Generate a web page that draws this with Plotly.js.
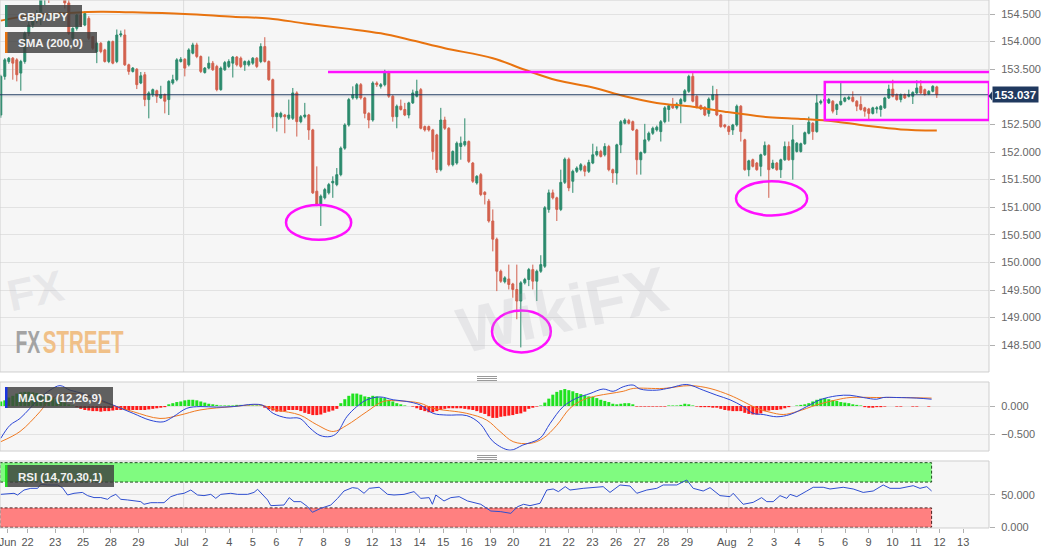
<!DOCTYPE html>
<html><head><meta charset="utf-8">
<script src="https://cdn.plot.ly/plotly-3.0.1.min.js"></script>
<style>html,body{margin:0;padding:0;background:#fff}#chart{width:1060px;height:555px}</style>
</head><body><div id="chart"></div>
<script>
// ---- GBP/JPY 4h candles ----
const openP = [152.67,153.37,153.64,153.70,153.67,153.43,153.64,154.15,154.30,154.38,154.51,154.80,154.95,154.85,155.00,154.90,154.80,154.70,154.06,154.24,154.48,154.30,154.42,154.09,153.82,153.97,153.85,153.64,154.00,153.64,154.12,154.12,153.58,153.46,153.50,153.25,153.40,152.95,153.04,153.11,152.98,153.04,152.95,153.25,153.31,153.64,153.68,153.58,153.79,153.94,153.73,153.44,153.52,153.61,153.55,153.13,153.49,153.55,153.61,153.72,153.70,153.58,153.58,153.61,153.70,153.64,153.91,153.64,153.31,152.64,152.64,152.67,152.61,152.61,153.07,152.55,152.64,152.67,152.40,151.29,151.05,151.17,151.26,151.44,151.41,151.59,152.07,152.49,152.98,152.98,153.22,152.98,152.70,152.58,153.25,153.19,153.22,153.43,153.01,152.64,152.83,152.77,152.67,152.89,153.01,153.13,152.46,152.46,152.40,152.31,151.68,152.58,152.43,151.77,151.80,152.10,152.13,152.19,151.80,151.44,151.59,151.27,151.11,150.75,150.42,149.84,149.65,149.70,149.61,149.51,149.30,149.63,149.69,149.87,149.66,149.84,149.93,150.96,151.26,151.17,150.96,151.45,151.87,151.47,151.65,151.68,151.74,151.65,151.80,151.95,152.01,151.95,152.10,151.68,151.62,152.13,152.52,152.57,152.55,152.40,151.86,151.99,152.22,152.34,152.40,152.37,152.55,152.77,152.84,152.80,152.87,152.92,153.10,153.37,153.01,152.84,152.81,152.70,152.95,153.04,152.67,152.49,152.46,152.40,152.49,152.83,152.22,151.68,151.86,151.80,151.74,151.95,152.12,151.71,151.80,151.68,151.86,152.10,151.86,152.01,152.01,152.15,152.34,152.52,152.37,152.89,152.92,152.89,152.92,152.77,152.86,152.92,152.96,152.99,152.92,152.86,152.80,152.78,152.70,152.78,152.77,152.80,152.98,153.14,153.04,152.95,153.04,153.01,153.01,153.07,153.19,153.13,153.05,153.10,153.18];
const highP = [153.40,153.70,153.72,153.72,153.70,153.67,154.18,154.36,154.45,154.57,154.90,155.00,155.05,155.10,155.12,155.00,154.95,154.85,154.26,154.50,154.52,154.55,154.46,154.10,153.99,153.99,153.87,154.02,154.02,154.22,154.20,154.22,153.60,153.54,153.52,153.45,153.45,153.10,153.15,153.13,153.20,153.06,153.30,153.40,153.70,153.72,153.70,153.88,153.98,153.98,153.75,153.54,153.73,153.65,153.58,153.55,153.65,153.68,153.74,153.74,153.73,153.66,153.67,153.72,153.72,153.97,154.08,153.66,153.33,152.72,152.73,152.69,152.95,153.16,153.10,152.67,152.89,152.69,152.42,151.74,151.23,151.35,151.44,151.56,151.71,152.10,152.52,152.98,153.19,153.25,153.25,153.00,152.72,153.28,153.28,153.25,153.49,153.47,153.03,152.86,152.95,152.89,152.91,153.13,153.31,153.16,152.48,152.48,152.42,152.33,152.80,152.64,152.45,152.03,152.19,152.28,152.61,152.21,151.82,151.58,151.62,151.29,151.15,150.96,150.45,149.87,149.75,149.96,149.63,149.96,149.66,149.72,149.90,149.96,149.87,150.13,151.02,151.32,151.32,151.19,151.68,151.90,151.90,151.68,151.74,151.80,151.77,151.86,152.15,152.10,152.04,152.16,152.13,151.70,152.15,152.58,152.61,152.60,152.57,152.42,152.01,152.51,152.37,152.46,152.48,152.58,152.83,152.87,152.98,152.90,152.98,153.14,153.40,153.43,153.03,152.86,152.83,152.99,153.20,153.14,152.69,152.51,152.48,152.51,152.86,152.85,152.24,151.86,151.88,151.82,151.97,152.19,152.14,151.86,151.82,151.88,152.19,152.19,152.49,152.18,152.17,152.37,152.64,152.54,153.04,152.95,152.98,152.98,152.94,152.88,153.25,153.00,153.02,153.10,152.94,153.01,152.82,152.80,152.82,152.83,152.85,153.00,153.22,153.31,153.06,153.06,153.06,153.13,153.10,153.30,153.30,153.15,153.12,153.21,153.20];
const lowP = [152.62,153.31,153.60,153.31,153.28,153.11,153.60,154.10,154.25,154.33,154.30,154.66,154.70,154.80,154.85,154.76,154.60,154.12,154.03,154.20,154.27,154.28,154.03,153.85,153.61,153.79,153.62,153.61,153.59,153.61,154.08,153.56,153.40,153.44,153.14,153.23,152.83,152.61,153.00,152.89,152.96,152.70,152.67,153.22,153.28,153.62,153.37,153.55,153.77,153.70,153.43,153.42,153.50,153.47,153.10,153.11,153.47,153.52,153.35,153.55,153.52,153.47,153.55,153.58,153.52,153.61,153.62,153.29,152.43,152.37,152.61,152.34,152.58,152.58,152.28,152.52,152.61,152.22,151.24,151.02,150.66,151.14,151.23,151.17,151.38,151.56,152.04,152.46,152.95,152.95,152.95,152.61,152.43,152.55,153.18,153.15,153.19,152.98,152.55,152.43,152.75,152.65,152.61,152.87,152.99,152.41,152.37,152.37,151.86,151.62,151.65,152.40,151.74,151.74,151.77,151.86,152.10,151.80,151.44,151.41,151.20,151.05,150.72,150.20,149.48,149.63,149.62,149.51,149.36,148.97,148.46,149.60,149.57,149.51,149.30,149.81,149.90,150.90,151.14,150.75,150.93,151.42,151.29,151.26,151.62,151.65,151.56,151.62,151.78,151.92,151.90,151.92,151.65,151.44,151.41,151.98,152.50,152.50,152.38,151.59,151.59,151.97,152.19,152.31,152.37,152.19,152.52,152.55,152.78,152.77,152.52,152.90,153.07,152.90,152.79,152.76,152.65,152.64,152.93,152.65,152.44,152.43,152.31,152.31,152.46,152.19,151.66,151.56,151.72,151.66,151.56,151.93,151.17,151.69,151.66,151.53,151.84,151.84,151.50,151.99,151.99,152.13,152.32,152.22,152.35,152.86,152.90,152.87,152.70,152.67,152.84,152.90,152.94,152.90,152.74,152.75,152.64,152.58,152.68,152.70,152.64,152.78,152.96,152.99,152.93,152.90,152.96,152.99,152.87,153.05,153.05,153.02,153.03,153.08,152.98];
const closeP = [153.37,153.67,153.70,153.61,153.40,153.64,154.15,154.30,154.39,154.51,154.80,154.95,154.85,155.00,154.90,154.80,154.70,154.15,154.24,154.48,154.30,154.51,154.06,153.88,153.97,153.82,153.64,154.00,153.61,154.12,154.14,153.58,153.46,153.52,153.22,153.38,152.95,153.07,153.13,153.01,153.04,152.92,153.28,153.31,153.67,153.68,153.52,153.85,153.94,153.73,153.46,153.52,153.61,153.49,153.13,153.52,153.62,153.64,153.72,153.58,153.55,153.64,153.64,153.70,153.55,153.91,153.64,153.31,152.64,152.70,152.70,152.64,152.67,153.07,152.55,152.64,152.67,152.40,151.26,151.05,151.20,151.32,151.41,151.47,151.59,152.07,152.49,152.95,153.04,153.22,152.98,152.70,152.58,153.25,153.22,153.22,153.46,153.01,152.64,152.83,152.77,152.67,152.89,153.07,153.10,152.43,152.40,152.40,152.01,151.68,152.58,152.43,151.77,152.01,152.16,152.16,152.19,151.83,151.47,151.56,151.23,151.23,150.75,150.42,149.84,149.66,149.72,149.60,149.51,149.30,149.63,149.69,149.87,149.66,149.84,149.96,150.99,151.26,151.17,150.96,151.45,151.87,151.35,151.65,151.71,151.77,151.65,151.81,151.95,152.01,151.92,152.10,151.68,151.62,152.13,152.55,152.58,152.52,152.40,151.86,151.99,152.22,152.34,152.43,152.45,152.55,152.80,152.84,152.80,152.87,152.95,153.11,153.37,152.92,152.81,152.78,152.67,152.96,153.04,152.67,152.46,152.46,152.37,152.49,152.83,152.37,151.68,151.84,151.74,151.68,151.95,152.12,151.68,151.80,151.68,151.86,152.10,151.86,152.22,152.16,152.15,152.35,152.54,152.37,152.89,152.92,152.96,152.95,152.74,152.86,152.92,152.98,152.99,152.92,152.83,152.77,152.74,152.70,152.80,152.80,152.83,152.98,153.14,153.01,152.95,153.04,152.98,153.04,153.08,153.16,153.07,153.04,153.10,153.19,153.04];
const lastPrice = 153.037;

// SMA(200) sampled along the candles (candle index, value)
const smaIdx = [0,8,17,25,33,46,58,67,76,86,95,103,111,123,131,139,148,156,164,173,181,192,200,209,217,225,234];
const smaVal = [154.38,154.48,154.52,154.54,154.53,154.50,154.45,154.42,154.33,154.24,154.15,154.02,153.88,153.70,153.49,153.30,153.17,153.01,152.89,152.82,152.73,152.63,152.60,152.55,152.47,152.41,152.39];

// MACD (12,26,9)
const macdIdx = [0,2.3,4.8,7.3,9.8,12.3,14.8,17.3,20.6,24.8,29,33.1,37.3,40.6,43.1,46.5,49.8,54,58.1,63.1,65.6,68.1,71.5,74.8,77.3,79.8,82.3,84,86.5,89,91.5,94.8,98.1,101.5,104.8,108.1,111.5,116.5,119.8,123.1,127.3,130.5,134.8,137.3,140.6,144,147.3,150.6,153.1,155.6,158.1,159.8,164,167.3,171.5,175.6,179,182.3,185.6,188.1,190.6,194,197.3,201.5,204.8,209,212.3,215.6,219,220.6,224,229,232.7];
const macdVal = [-0.57,-0.34,-0.22,-0.04,0.14,0.28,0.36,0.28,0.22,0.11,-0.01,-0.13,-0.25,-0.28,-0.19,-0.04,-0.01,-0.02,-0.01,0.03,0.01,-0.13,-0.21,-0.22,-0.39,-0.52,-0.54,-0.48,-0.19,-0.01,0.11,0.16,0.11,0.08,0.02,-0.13,-0.16,-0.17,-0.31,-0.63,-0.78,-0.69,-0.57,-0.31,-0.01,0.14,0.22,0.30,0.26,0.34,0.37,0.30,0.28,0.32,0.38,0.28,0.19,0.11,-0.01,-0.13,-0.15,-0.19,-0.15,-0.01,0.11,0.18,0.19,0.15,0.12,0.15,0.15,0.14,0.12];
const signalIdx = [0,4.8,9.8,12.3,16.5,20.6,24.8,29,33.1,39.8,44.8,49.8,58.1,64.8,69,74.8,79,83.1,86.5,91.5,95.6,99.8,104.8,108.1,116.5,121.5,124.8,128.1,132.3,135.6,139,142.3,145.6,149,152.3,155.6,158.1,165.6,172.3,177.3,182.3,185.6,189,192.3,195.6,199,204,209,212.3,219,224,232.7];
const signalVal = [-0.63,-0.45,-0.10,0.11,0.22,0.19,0.09,-0.01,-0.10,-0.22,-0.16,-0.07,-0.01,0.02,-0.07,-0.16,-0.33,-0.45,-0.34,-0.10,0.08,0.09,0.05,-0.04,-0.13,-0.25,-0.45,-0.63,-0.66,-0.57,-0.34,-0.04,0.11,0.18,0.22,0.26,0.31,0.31,0.36,0.31,0.19,0.08,-0.04,-0.11,-0.15,-0.10,0.02,0.11,0.15,0.15,0.15,0.14];
const histVal = [0.08,0.10,0.15,0.18,0.22,0.24,0.25,0.25,0.24,0.23,
0.21,0.19,0.17,0.15,0.12,0.09,0.06,0.03,0.01,-0.02,
-0.05,-0.07,-0.08,-0.09,-0.09,-0.10,-0.09,-0.09,-0.08,-0.07,
-0.07,-0.07,-0.07,-0.07,-0.07,-0.07,-0.07,-0.06,-0.05,-0.04,
-0.03,-0.02,0.03,0.05,0.07,0.08,0.10,0.11,0.11,0.10,
0.08,0.06,0.04,0.03,0.02,0.01,0.01,0.01,0.01,0.02,
0.02,0.01,0.01,0.01,0.01,0.01,-0.03,-0.06,-0.08,-0.10,
-0.10,-0.09,-0.07,-0.07,-0.07,-0.09,-0.12,-0.14,-0.16,-0.16,
-0.15,-0.12,-0.10,-0.08,-0.05,0.05,0.12,0.18,0.22,0.22,
0.20,0.17,0.16,0.18,0.17,0.15,0.14,0.11,0.08,0.05,
0.03,0.01,0.00,-0.01,-0.04,-0.07,-0.09,-0.11,-0.11,-0.09,
-0.07,-0.05,-0.04,-0.04,-0.04,-0.04,-0.05,-0.06,-0.07,-0.09,
-0.12,-0.14,-0.18,-0.21,-0.21,-0.19,-0.18,-0.17,-0.16,-0.14,
-0.13,-0.10,-0.05,-0.03,-0.01,0.01,0.06,0.13,0.20,0.25,
0.28,0.30,0.28,0.26,0.23,0.21,0.19,0.17,0.16,0.14,
0.11,0.09,0.07,0.04,0.03,0.04,0.05,0.05,0.03,-0.01,
-0.01,-0.01,-0.01,-0.01,-0.01,-0.01,-0.01,0.01,0.01,0.01,
0.02,0.04,0.03,0.01,-0.01,-0.02,-0.02,-0.02,-0.03,-0.03,
-0.05,-0.07,-0.08,-0.09,-0.09,-0.09,-0.12,-0.14,-0.15,-0.15,
-0.13,-0.09,-0.08,-0.07,-0.07,-0.06,-0.04,-0.02,0.00,0.01,
0.02,0.03,0.05,0.08,0.11,0.13,0.14,0.12,0.10,0.09,
0.07,0.06,0.05,0.03,0.02,0.01,-0.02,-0.03,-0.03,-0.02,
-0.02,-0.01,0.00,0.00,-0.01,-0.01,0.00,0.00,-0.01,-0.01,
0.00,0.00,-0.01];

// RSI (14,70,30,1)
const rsiIdx = [0,1.7,3.3,4.2,5.8,7.5,9.2,10,11.7,14.2,15.4,16.7,18.3,20.4,21.7,23.3,25,26.7,27.5,28.75,30,31.7,33.3,35,35.8,37.5,39.2,40.8,42.5,44.2,45.8,47.5,49.2,50.8,52.5,53.75,55,57.5,59.2,61.7,63.3,64.2,66.7,67.5,70.8,72.1,73.3,75,76.7,77.9,80,82.5,84.2,85.8,87.9,89.2,90.8,92.1,94.6,96.7,98.3,100.8,103.3,105,107.1,107.9,108.75,110.8,112.5,114.6,116.7,120,122.5,125,127.5,129.2,130.7,
132.3,134.8,136.5,138.1,139.4,141.1,142.3,145.6,148.1,150.6,152.3,154.8,157.3,159,161.5,164,165.6,169,171.5,173.1,175.6,177.3,179.8,182.3,183.1,185.6,188.1,190.2,191.5,193.1,194.8,196.5,197.3,199,201.5,203.1,205.6,207.3,210.6,213.1,215.6,218.1,220.6,222.3,224.8,228.1,229.8,231.5,232.7];
const rsiVal = [51,52,52.6,50,57.7,60.3,60.3,66.5,65.5,65.5,61.4,50,52.6,54,49,46,46,43.3,47.4,51,43.3,42.3,40.7,39.7,35.6,38.1,38.1,38.1,47.4,51,52.6,57.7,50,49,51,44.8,51,52.6,51,51,54,58.8,42.3,33.5,34.5,45.9,39.7,39.7,31.9,23.2,29.4,34.5,44.8,56.2,61.4,60.3,52.6,60.3,61.9,51,50,51,55.2,44.8,45.9,35.6,50,40.7,45.9,47.4,40.7,35.6,25.2,24.2,21.6,31.9,35.6,
33.5,37.1,57.7,59.3,55.2,62.9,57.7,60.3,61.9,62.9,54,65.5,63.9,52.6,57.7,60.3,65.5,65.5,73.2,60.3,56.2,61.4,49,47.4,52.6,35.6,38.6,45.9,39.7,39.7,49,44.8,51,47.4,56.2,61.9,61.9,59.3,61.9,59.3,54,56.2,65.5,60.3,60.3,64.4,60.3,62.9,56.2];

// x-axis tick labels (position in candle index)
const tickIdx = [1.7,6.7,13.6,20.55,27.5,34.4,45.2,51.1,57.1,63.0,68.9,74.85,80.7,86.7,92.85,98.75,104.7,110.6,116.5,122.4,128.1,136.05,141.97,147.9,153.8,159.7,165.6,171.55,181.5,187.4,193.3,199.2,205.1,211.05,216.95,222.9,228.8,234.7,240.6];
const tickLabels = ['Jun','22','23','25','28','29','Jul','2','4','5','6','7','8','9','12','13','14','15','16','19','20','21','22','23','26','27','28','29','Aug','2','3','4','5','6','9','10','11','12','13'];
// price-axis ticks (153.000 sits under the live price tag, so it is not labelled)
const priceTicks = [148.5,149,149.5,150,150.5,151,151.5,152,152.5,153.5,154,154.5];

// ---------------- drawing ----------------
const W = 989, H = 528;                 // plot area in px
const px = x => x / W, py = y => (H - y) / H;
const FONT = 'Arial, "Liberation Sans", sans-serif';
const UP = '#2b8a6c', DN = '#d2604d';
const xs = openP.map((_, i) => i);
const hx = histVal.map((_, i) => i);

const traces = [
  {type:'candlestick', x:xs, open:openP, high:highP, low:lowP, close:closeP,
   increasing:{line:{color:UP,width:1}, fillcolor:UP},
   decreasing:{line:{color:DN,width:1}, fillcolor:DN},
   whiskerwidth:0, hoverinfo:'skip', xaxis:'x', yaxis:'y'},
  {type:'scatter', mode:'lines', x:smaIdx, y:smaVal, line:{color:'#e8730f', width:2, shape:'spline'}, hoverinfo:'skip', xaxis:'x', yaxis:'y'},
  {type:'bar', x:hx, y:histVal, marker:{color:histVal.map(v => v >= 0 ? '#1fe21f' : '#ff1a1a'), line:{width:0}}, hoverinfo:'skip', xaxis:'x', yaxis:'y2'},
  {type:'scatter', mode:'lines', x:signalIdx, y:signalVal, line:{color:'#f07a22', width:1, shape:'spline'}, hoverinfo:'skip', xaxis:'x', yaxis:'y2'},
  {type:'scatter', mode:'lines', x:macdIdx, y:macdVal, line:{color:'#2b45d6', width:1, shape:'spline'}, hoverinfo:'skip', xaxis:'x', yaxis:'y2'},
  {type:'scatter', mode:'lines', x:rsiIdx, y:rsiVal, line:{color:'#2f4fd0', width:1}, hoverinfo:'skip', xaxis:'x', yaxis:'y3'}
];

const yTick = {side:'right', ticks:'outside', ticklen:5, tickcolor:'#b0b0b0', tickformat:'.3f',
  tickfont:{family:FONT, size:11, color:'#666'}, gridcolor:'#e2e2e2', zeroline:false, showline:false,
  anchor:'x', fixedrange:true, ticklabelstandoff:4};

const shapes = [];
// panel borders
['y','y2','y3'].forEach(ax => shapes.push({type:'rect', xref:'paper', yref:ax+' domain', x0:0, x1:1, y0:0, y1:1, line:{color:'#cfcfcf', width:1}, layer:'above'}));
// 153.000 grid line (not labelled)
shapes.push({type:'line', xref:'paper', yref:'y', x0:0, x1:1, y0:153, y1:153, line:{color:'#e2e2e2', width:1}, layer:'below'});
// month grid lines
[45.7, 182].forEach(m => ['y','y2','y3'].forEach(ax => shapes.push({type:'line', xref:'x', yref:ax+' domain', x0:m, x1:m, y0:0, y1:1, line:{color:'#dcdcdc', width:1}, layer:'below'})));
// RSI bands
shapes.push({type:'rect', xref:'x', yref:'y3', x0:-0.2, x1:232.7, y0:70, y1:100, fillcolor:'#80fb80', line:{color:'#1d4d1d', width:1, dash:'3px,2px'}, layer:'below'});
shapes.push({type:'rect', xref:'x', yref:'y3', x0:-0.2, x1:232.7, y0:0, y1:30, fillcolor:'#ff8080', line:{color:'#4d1d1d', width:1, dash:'3px,2px'}, layer:'below'});
// current price line
shapes.push({type:'line', xref:'paper', yref:'y', x0:0, x1:1, y0:lastPrice, y1:lastPrice, line:{color:'#1f3a60', width:1}});
// drawn resistance/support marks
const MG = '#ff10ff';
shapes.push({type:'line', xref:'x', yref:'y', x0:81.8, x1:247.05, y0:153.45, y1:153.45, line:{color:MG, width:2.5}});
shapes.push({type:'rect', xref:'x', yref:'y', x0:206, x1:247.05, y0:152.58, y1:153.27, line:{color:MG, width:2.5}});
shapes.push({type:'circle', xref:'x', yref:'y', x0:71.3, x1:87.6, y0:150.41, y1:151.04, line:{color:MG, width:2.5}});
shapes.push({type:'circle', xref:'x', yref:'y', x0:122.8, x1:137.5, y0:148.37, y1:149.13, line:{color:MG, width:2.5}});
shapes.push({type:'circle', xref:'x', yref:'y', x0:183.8, x1:201.6, y0:150.85, y1:151.47, line:{color:MG, width:2.5}});
// price tag pointer
shapes.push({type:'path', xref:'paper', yref:'paper', path:`M ${px(988.5)},${py(96)} L ${px(992)},${py(91.5)} L ${px(992)},${py(100.5)} Z`, fillcolor:'#20395f', line:{width:0}});
// legend boxes
function legendBox(x0,y0,x1,y1,col){
  shapes.push({type:'rect', xref:'paper', yref:'paper', x0:px(x0), x1:px(x1), y0:py(y1), y1:py(y0), fillcolor:'rgba(62,62,62,0.82)', line:{width:0}});
  shapes.push({type:'rect', xref:'paper', yref:'paper', x0:px(x0), x1:px(x0+2.5), y0:py(y1), y1:py(y0), fillcolor:col, line:{width:0}});
}
legendBox(5,5,82,27,'#2b8a6c');
legendBox(5,32,97,53,'#e8730f');
legendBox(5,387,113,408,'#1b35e0');
legendBox(5,465,114,487,'#22dd22');
// pane separators
[376.5,378.5,380.5,455.5,457.5,459.5].forEach(y => shapes.push({type:'line', xref:'paper', yref:'paper', x0:px(477), x1:px(497), y0:py(y), y1:py(y), line:{color:'#9a9a9a', width:1}}));

const ann = [];
function label(txt, x, y){ ann.push({xref:'paper', yref:'paper', x:px(x), y:py(y), xanchor:'left', yanchor:'middle', showarrow:false, text:'<b>'+txt+'</b>', font:{family:FONT, size:11.5, color:'#f2f2f2'}}); }
label('GBP/JPY', 16, 16.5);
label('SMA (200,0)', 16, 43);
label('MACD (12,26,9)', 16, 398);
label('RSI (14,70,30,1)', 16, 476.5);
ann.push({xref:'paper', yref:'y', x:px(992), y:lastPrice, xanchor:'left', yanchor:'middle', showarrow:false,
  text:'<b>'+lastPrice.toFixed(3)+'</b>', bgcolor:'#20395f', borderpad:1.5, font:{family:FONT, size:11.5, color:'#ffffff'}});
// watermarks
ann.push({xref:'paper', yref:'paper', x:px(562), y:py(310), showarrow:false, text:'<b>WikiFX</b>', textangle:-12,
  font:{family:FONT, size:64, color:'rgba(170,170,180,0.2)'}});
ann.push({xref:'paper', yref:'paper', x:px(0), y:py(290), xanchor:'left', yanchor:'middle', showarrow:false, text:'<b>FX</b>', textangle:-12,
  font:{family:FONT, size:44, color:'rgba(170,170,180,0.2)'}});
// FXSTREET logo, as two condensed words
const logo = [['FX', 27.5, 25, '#a3a3a3'], ['STREET', 82.5, 81, '#f0c088']];
logo.forEach(([t, cx, w, c]) => ann.push({xref:'paper', yref:'paper', x:px(cx), y:py(342), xanchor:'center', yanchor:'middle', showarrow:false,
  text:'<b>'+t+'</b>', font:{family:FONT, size:31, color:c}}));

const layout = {
  width:1060, height:555, margin:{l:0, r:71, t:0, b:27},
  paper_bgcolor:'#ffffff', plot_bgcolor:'#f6f6f6', showlegend:false,
  bargap:0.25, boxgap:0.3, dragmode:false,
  xaxis:{domain:[0,1], range:[-0.2,247.05], anchor:'y3', tickmode:'array', tickvals:tickIdx, ticktext:tickLabels,
    ticks:'outside', ticklen:4, tickcolor:'#b0b0b0', tickfont:{family:FONT, size:11, color:'#555'},
    ticklabeloverflow:'allow', showgrid:false, zeroline:false, showline:false, rangeslider:{visible:false}, fixedrange:true},
  yaxis:Object.assign({}, yTick, {domain:[0.2955,1], range:[148.015,154.754], tickvals:priceTicks}),
  yaxis2:Object.assign({}, yTick, {domain:[0.1458,0.2765], range:[-0.795,0.424], tickvals:[-0.5,0]}),
  yaxis3:Object.assign({}, yTick, {domain:[0,0.1269], range:[-1.08,102.6], tickvals:[0,50]}),
  shapes:shapes, annotations:ann
};
Plotly.newPlot('chart', traces, layout, {displayModeBar:false, staticPlot:true}).then(() => {
  // condense the FXSTREET logo words horizontally (narrow logo lettering)
  document.querySelectorAll('.annotation-text').forEach(t => {
    logo.forEach(([txt, , w]) => {
      if (t.textContent === txt && t.style.fontSize === '31px') {
        const b = t.getBBox();
        const cx = b.x + b.width / 2, sx = w / b.width;
        const prev = t.getAttribute('transform') || '';
        t.setAttribute('transform', `${prev} translate(${cx},0) scale(${sx},1) translate(${-cx},0)`.trim());
      }
    });
  });
});
</script>
</body></html>
